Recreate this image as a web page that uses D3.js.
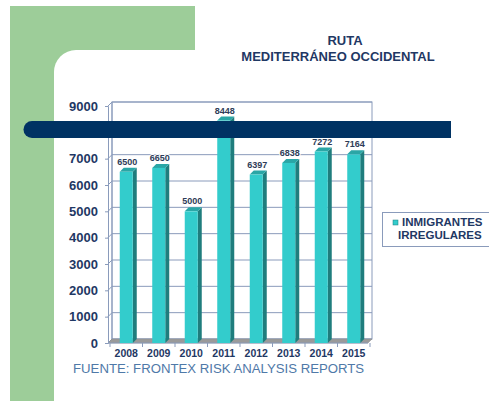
<!DOCTYPE html>
<html>
<head>
<meta charset="utf-8">
<script src="https://cdn.jsdelivr.net/npm/d3@7"></script>
<style>
  body { margin: 0; background: #fff; }
  svg { display: block; font-family: "Liberation Sans", Arial, sans-serif; }
</style>
</head>
<body>
<script>
const width = 489;
const height = 401;

// data
const years = ["2008", "2009", "2010", "2011", "2012", "2013", "2014", "2015"];
const migrants = [6500, 6650, 5000, 8448, 6397, 6838, 7272, 7164];
const yTicks = [0, 1000, 2000, 3000, 4000, 5000, 6000, 7000, 8000, 9000];
const titleLines = ["RUTA", "MEDITERRÁNEO OCCIDENTAL"];
const legendLines = ["INMIGRANTES", "IRREGULARES"];
const source = "FUENTE: FRONTEX RISK ANALYSIS REPORTS";

const navy = "#1f3864";
const grid = "#8a9bbb";
const depth = 4;
const barW = 13;

const svg = d3.select("body").append("svg")
  .attr("width", width)
  .attr("height", height);

// slide background: green L shape with rounded white panel
svg.append("rect")
  .attr("x", 10).attr("y", 6)
  .attr("width", 185).attr("height", height)
  .attr("fill", "#9dcd99");
svg.append("rect")
  .attr("x", 54).attr("y", 50)
  .attr("width", 500).attr("height", 500)
  .attr("rx", 22)
  .attr("fill", "#fff");

const x = d3.scaleBand().domain(years).range([110, 370]);
const y = d3.scaleLinear().domain([0, 9000]).range([343, 106]);
const x0 = 108, x1 = 368;

// back wall + side wall
const wall = svg.append("g");
wall.append("rect")
  .attr("x", x0 + depth).attr("y", y(9000) - depth)
  .attr("width", x1 - x0).attr("height", y(0) - y(9000))
  .attr("fill", "#fff").attr("stroke", grid).attr("stroke-width", 1);
wall.selectAll("line.grid")
  .data(yTicks)
  .enter().append("line")
  .attr("class", "grid")
  .attr("x1", x0 + depth).attr("x2", x1 + depth)
  .attr("y1", (d) => y(d) - depth).attr("y2", (d) => y(d) - depth)
  .attr("stroke", grid).attr("stroke-width", 1);
wall.selectAll("line.side")
  .data(yTicks)
  .enter().append("line")
  .attr("class", "side")
  .attr("x1", x0).attr("x2", x0 + depth)
  .attr("y1", (d) => y(d)).attr("y2", (d) => y(d) - depth)
  .attr("stroke", grid).attr("stroke-width", 1);
wall.append("line")
  .attr("x1", x0 + depth).attr("x2", x0 + depth)
  .attr("y1", y(0) - depth).attr("y2", y(9000) - depth)
  .attr("stroke", grid);

// floor
svg.append("path")
  .attr("d", `M${x0},${y(0)}L${x1},${y(0)}L${x1 + depth},${y(0) - depth}L${x0 + depth},${y(0) - depth}Z`)
  .attr("fill", "#9a9a9a").attr("stroke", "#8c8c8c").attr("stroke-width", 0.5);

// y axis
const yAxis = svg.append("g")
  .attr("transform", `translate(${x0},0)`)
  .call(d3.axisLeft(y).tickValues(yTicks).tickFormat(d3.format("d")).tickSize(3).tickPadding(7));
yAxis.select(".domain").attr("stroke", grid);
yAxis.selectAll(".tick line").attr("stroke", grid);
yAxis.selectAll("text")
  .attr("fill", navy)
  .style("font-size", "13px")
  .style("font-weight", "bold");

// x axis
const xAxis = svg.append("g")
  .attr("transform", `translate(0,${y(0)})`)
  .call(d3.axisBottom(x).tickSize(0).tickPadding(7));
xAxis.select(".domain").attr("stroke", grid).attr("d", `M${x0},0H${x1}`);
xAxis.selectAll("text")
  .attr("fill", navy)
  .style("font-size", "10.5px")
  .style("font-weight", "bold");
svg.append("g").selectAll("line")
  .data(years.concat(["end"]))
  .enter().append("line")
  .attr("x1", (d, i) => x.range()[0] + i * x.step())
  .attr("x2", (d, i) => x.range()[0] + i * x.step())
  .attr("y1", y(0)).attr("y2", y(0) + 4)
  .attr("stroke", grid);

// 3d bars
const bars = svg.append("g").selectAll("g")
  .data(years.map((yr, i) => ({ yr: yr, v: migrants[i] })))
  .enter().append("g");
const bx = (d) => x(d.yr) + x.bandwidth() / 2 - barW / 2;
bars.append("path")
  .attr("d", (d) => `M${bx(d) + barW},${y(d.v)}L${bx(d) + barW + depth},${y(d.v) - depth}L${bx(d) + barW + depth},${y(0) - depth}L${bx(d) + barW},${y(0)}Z`)
  .attr("fill", "#1f7d7d");
bars.append("path")
  .attr("d", (d) => `M${bx(d)},${y(d.v)}L${bx(d) + depth},${y(d.v) - depth}L${bx(d) + barW + depth},${y(d.v) - depth}L${bx(d) + barW},${y(d.v)}Z`)
  .attr("fill", "#2aa6a6");
bars.append("rect")
  .attr("x", bx)
  .attr("y", (d) => y(d.v))
  .attr("width", barW)
  .attr("height", (d) => y(0) - y(d.v))
  .attr("fill", "#33cccc");
bars.append("text")
  .attr("x", (d) => bx(d) + barW / 2 + 1)
  .attr("y", (d) => y(d.v) - depth - 3)
  .attr("text-anchor", "middle")
  .attr("fill", "#2e3c58")
  .attr("stroke", "#fff").attr("stroke-width", 2).attr("paint-order", "stroke")
  .style("font-size", "9px")
  .style("font-weight", "bold")
  .text((d) => d.v);

// navy banner over the chart
svg.append("path")
  .attr("d", "M451,121H32A8.5,8.5 0 0 0 32,138H451Z")
  .attr("fill", "#003263");

// title
svg.append("text")
  .attr("x", 338).attr("y", 45)
  .attr("text-anchor", "middle")
  .attr("fill", navy)
  .style("font-size", "13px")
  .style("font-weight", "bold")
  .selectAll("tspan")
  .data(titleLines)
  .enter().append("tspan")
  .attr("x", (d, i) => i === 0 ? 345 : 338)
  .attr("dy", (d, i) => i === 0 ? 0 : 16)
  .text((d) => d);

// legend
const legend = svg.append("g");
legend.append("rect")
  .attr("x", 382.5).attr("y", 212.5)
  .attr("width", 120).attr("height", 34)
  .attr("fill", "#fff").attr("stroke", grid);
legend.append("rect")
  .attr("x", 393).attr("y", 220)
  .attr("width", 5).attr("height", 5)
  .attr("fill", "#33cccc").attr("stroke", "#1f7d7d").attr("stroke-width", 0.5);
legend.selectAll("text")
  .data(legendLines)
  .enter().append("text")
  .attr("x", (d, i) => i === 0 ? 402 : 398)
  .attr("y", (d, i) => 226 + i * 13)
  .attr("fill", navy)
  .style("font-size", "11.5px")
  .style("font-weight", "bold")
  .text((d) => d);

// source note
svg.append("text")
  .attr("x", 73).attr("y", 373)
  .attr("fill", "#4f79a8")
  .style("font-size", "13.2px")
  .text(source);
</script>
</body>
</html>
